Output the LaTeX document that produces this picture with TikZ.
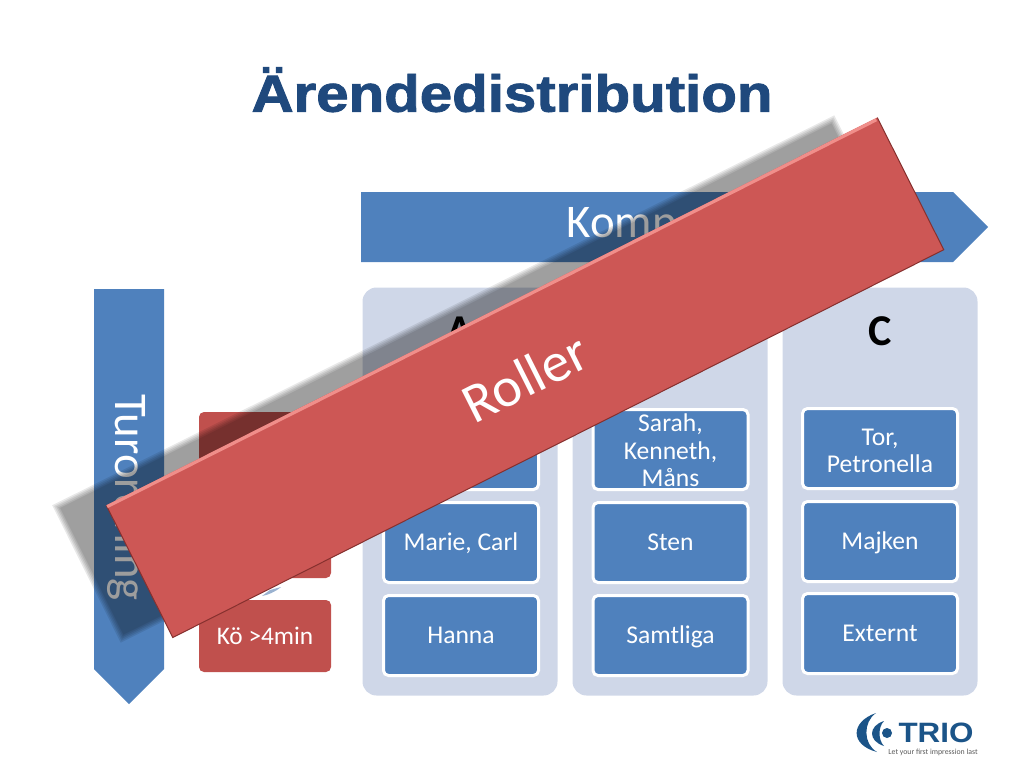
\documentclass[tikz,border=0pt]{standalone}
\usepackage{fontspec}
\setmainfont{Carlito}
\newfontfamily\titlefont[BoldFeatures={FakeBold=1.6}]{Liberation Sans}
\newfontfamily\logofont{Liberation Sans}
\usepackage{tikz}
\usetikzlibrary{positioning}
\definecolor{trioblue}{HTML}{1F497D}
\definecolor{logoblue}{HTML}{1B5488}
\definecolor{stepblue}{HTML}{4F81BD}
\definecolor{panelblue}{HTML}{CFD7E8}
\definecolor{boxred}{HTML}{C0504D}
\definecolor{bannerred}{HTML}{CD5755}
\definecolor{bannerlight}{HTML}{F08E8A}
\definecolor{bannerdark}{HTML}{86302E}
\tikzset{
  panel/.style={fill=panelblue,rounded corners=14pt,minimum width=195pt,minimum height=408pt,outer sep=0pt},
  namebox/.style={draw=white,line width=3pt,fill=stepblue,rounded corners=5pt,minimum width=155pt,
    minimum height=80pt,inner xsep=0pt,inner ysep=-12pt,outer sep=0pt,text=white,align=center,
    font=\fontsize{25.6}{27.5}\selectfont,execute at begin node={\rule{0pt}{24pt}},execute at end node=\strut},
  redbox/.style={fill=boxred,rounded corners=5pt,minimum width=132pt,minimum height=72pt,inner sep=0pt,
    outer sep=0pt,text=white,font=\fontsize{25.3}{27.5}\selectfont},
  colhead/.style={font=\fontsize{44}{44}\selectfont\bfseries,text=black,inner sep=0pt},
  axislabel/.style={font=\fontsize{46.8}{48}\selectfont,text=white,inner sep=0pt},
  shadowbar/.style={fill=black,fill opacity=.091,inner sep=0pt,outer sep=0pt,rotate=26.5},
  banner/.style={fill=bannerred,minimum width=863pt,minimum height=148pt,inner sep=0pt,outer sep=0pt,
    rotate=26.7,text=white,font=\fontsize{56}{56}\selectfont}
}
\begin{document}
\begin{tikzpicture}[x=1pt,y=-1pt,node distance=13pt]
  \useasboundingbox (0,0) rectangle (1024,768);
  \node (title) [text=trioblue,inner sep=0pt,xscale=1.12] at (512,89.7) {\titlefont\fontsize{52}{52}\selectfont\bfseries Ärendedistribution};
  % the two axes
  \fill[stepblue] (361,192) -- (953,192) -- (988,227) -- (953,262) -- (361,262) -- cycle;
  \fill[stepblue] (94,289) -- (164,289) -- (164,669) -- (129,704) -- (94,669) -- cycle;
  \node (komp) [axislabel] at (674,226) {Kompetens};
  \node (tur) [axislabel,rotate=-90] at (128,497.5) {Turordning};
  % left column
  \node (r1) [redbox] at (265,448) {};
  \node (r2) [redbox,below=22pt of r1] {};
  \node (r3) [redbox,below=22pt of r2] {Kö >4min};
  \fill[black!10!stepblue!55] (262,596) .. controls (268,595) and (275,592) .. (281,587) -- (270,590) -- cycle;
  % columns
  \node (pa) [panel] at (460,491.5) {};
  \node (pb) [panel,right=15pt of pa] {};
  \node (pc) [panel,right=15pt of pb] {};
  \node (ha) [colhead] at (460,331) {A};
  \node (hc) [colhead] at (880,331) {C};
  %
  \node (a1) [namebox] at (461,449.5) {};
  \node (a2) [namebox,below=13pt of a1] {Marie, Carl};
  \node (a3) [namebox,below=13pt of a2] {Hanna};
  %
  \node (b1) [namebox] at (670.5,449.5) {\rule{0pt}{28pt}Sarah,\\Kenneth,\\Måns};
  \node (b2) [namebox,below=13pt of b1] {Sten};
  \node (b3) [namebox,below=13pt of b2] {Samtliga};
  %
  \node (c1) [namebox] at (880,448.5) {\rule{0pt}{29pt}Tor,\\Petronella};
  \node (c2) [namebox,below=13pt of c1] {Majken};
  \node (c3) [namebox,below=12pt of c2] {Externt};
  % shadow and banner on top
  \foreach \d in {-6,-3,0,3,6}
    \node (shadow\d) [shadowbar,minimum width=868pt+\d pt,minimum height=147.6pt+\d pt] at (477.5,379) {};
  \node (roller) [banner] at (525,377.5) {Roller};
  \draw[line width=1pt,color=bannerdark] (roller.north east) -- (roller.south east) -- (roller.south west) -- (roller.north west);
  \draw[line width=3.2pt,color=bannerlight,shorten >=1pt,shorten <=1pt] ([yshift=-1.8pt]roller.north west) -- ([yshift=-1.8pt]roller.north east);
  % logo
  \fill[logoblue] (876,713) .. controls (850,722) and (850,745) .. (877,752) .. controls (863,744) and (863,722) .. (876,713) -- cycle;
  \fill[logoblue] (884,721) .. controls (868,726) and (868,741) .. (884,746) .. controls (878,740) and (878,727) .. (884,721) -- cycle;
  \node (dot) [fill=logoblue,circle,minimum size=10pt,inner sep=0pt] at (887,733) {};
  \node (trio) [text=logoblue,inner sep=0pt,xscale=1.12] at (936,733) {\logofont\fontsize{28}{28}\selectfont\bfseries TRIO};
  \node (tagline) [text=black!65,inner sep=0pt] at (933,752) {\fontsize{7.8}{8}\selectfont Let your first impression last};
\end{tikzpicture}
\end{document}
